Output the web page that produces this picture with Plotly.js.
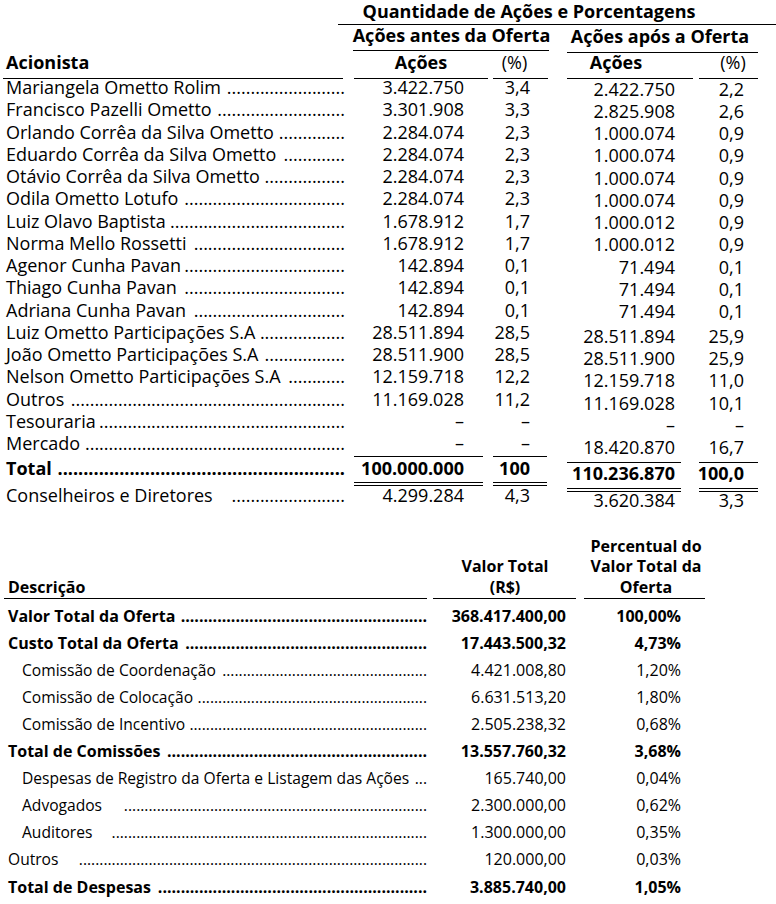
<!DOCTYPE html>
<html><head><meta charset="utf-8">
<script src="https://cdn.plot.ly/plotly-3.0.1.min.js"></script>
<style>html,body{margin:0;padding:0;background:#fff}#chart{width:776px;height:904px}</style>
</head><body><div id="chart"></div>
<script>
// ---------------- DATA: shareholders table ----------------
const titleTop = 'Quantidade de Ações e Porcentagens';
const groupAntes = 'Ações antes da Oferta';
const groupApos = 'Ações após a Oferta';
const colHeadersTop = ['Acionista', 'Ações', '(%)', 'Ações', '(%)'];

const acionistas = [
  'Mariangela Ometto Rolim', 'Francisco Pazelli Ometto', 'Orlando Corrêa da Silva Ometto',
  'Eduardo Corrêa da Silva Ometto', 'Otávio Corrêa da Silva Ometto', 'Odila Ometto Lotufo',
  'Luiz Olavo Baptista', 'Norma Mello Rossetti', 'Agenor Cunha Pavan', 'Thiago Cunha Pavan',
  'Adriana Cunha Pavan', 'Luiz Ometto Participações S.A', 'João Ometto Participações S.A',
  'Nelson Ometto Participações S.A', 'Outros', 'Tesouraria', 'Mercado'
];
const acoesAntes = [3422750, 3301908, 2284074, 2284074, 2284074, 2284074, 1678912, 1678912,
  142894, 142894, 142894, 28511894, 28511900, 12159718, 11169028, null, null];
const pctAntes = [3.4, 3.3, 2.3, 2.3, 2.3, 2.3, 1.7, 1.7, 0.1, 0.1, 0.1, 28.5, 28.5, 12.2, 11.2, null, null];
const acoesApos = [2422750, 2825908, 1000074, 1000074, 1000074, 1000074, 1000012, 1000012,
  71494, 71494, 71494, 28511894, 28511900, 12159718, 11169028, null, 18420870];
const pctApos = [2.2, 2.6, 0.9, 0.9, 0.9, 0.9, 0.9, 0.9, 0.1, 0.1, 0.1, 25.9, 25.9, 11.0, 10.1, null, 16.7];

const totalLabel = 'Total';
const totalAcoesAntes = 100000000, totalPctAntes = 100;
const totalAcoesApos = 110236870, totalPctApos = 100.0;

const conselheirosLabel = 'Conselheiros e Diretores';
const conselheirosAcoesAntes = 4299284, conselheirosPctAntes = 4.3;
const conselheirosAcoesApos = 3620384, conselheirosPctApos = 3.3;

// ---------------- DATA: offer costs table ----------------
const colHeadersBottom = ['Descrição', ['Valor Total', '(R$)'], ['Percentual do', 'Valor Total da', 'Oferta']];
const descricoes = [
  'Valor Total da Oferta', 'Custo Total da Oferta', 'Comissão de Coordenação', 'Comissão de Colocação',
  'Comissão de Incentivo', 'Total de Comissões', 'Despesas de Registro da Oferta e Listagem das Ações',
  'Advogados', 'Auditores', 'Outros', 'Total de Despesas'
];
const valores = [368417400.00, 17443500.32, 4421008.80, 6631513.20, 2505238.32, 13557760.32,
  165740.00, 2300000.00, 1300000.00, 120000.00, 3885740.00];
const percentuais = [100.00, 4.73, 1.20, 1.80, 0.68, 3.68, 0.04, 0.62, 0.35, 0.03, 1.05];

// ---------------- STYLE / LAYOUT CONSTANTS ----------------
const FONT = 'Open Sans';
const FS_TOP = 18, FS_BOT_LABEL = 15.6, FS_BOT_BOLD = 16, FS_BOT_NUM = 16;
const boldRowsBottom = new Set([0, 1, 5, 10]);
const indentRowsBottom = new Set([2, 3, 4, 6, 7, 8]);
const extraLeaderGapBottom = { 7: 18, 8: 15, 9: 14 };

// ---------------- helpers ----------------
const ctx = document.createElement('canvas').getContext('2d');
function measure(str, size, bold) {
  ctx.font = (bold ? 'bold ' : '') + size + 'px "' + FONT + '"';
  return ctx.measureText(str).width;
}
function leader(label, xStart, xEnd, size, bold) {
  const avail = xEnd - xStart - measure(label, size, bold) - 3;
  const n = Math.max(0, Math.floor(avail / measure('.', size, bold)));
  return '.'.repeat(n);
}
function groupThousands(s) { return s.replace(/\B(?=(\d{3})+(?!\d))/g, '.'); }
function fmtInt(n) { return n == null ? '–' : groupThousands(String(Math.round(n))); }
function fmtDec(v, d) {
  if (v == null) return '–';
  const parts = v.toFixed(d).split('.');
  return groupThousands(parts[0]) + (parts[1] ? ',' + parts[1] : '');
}
const B = s => '<b>' + s + '</b>';

const pts = { x: [], y: [], text: [], pos: [], size: [] };
function put(x, y, text, pos, size) {
  pts.x.push(x); pts.y.push(y); pts.text.push(text); pts.pos.push(pos); pts.size.push(size);
}
const shapes = [];
function hline(x0, x1, y) {
  shapes.push({ type: 'line', xref: 'x', yref: 'y', x0: x0, x1: x1, y0: y + 0.5, y1: y + 0.5,
    line: { color: '#000', width: 1 } });
}

// ---------------- top table ----------------
const xName = 6, xLeadEnd = 345;
const xAcoesAntes = 464, xPctAntes = 530, xAcoesApos = 675, xPctApos = 744;
const rowY = i => 89.5 + 22.25 * i;
const aposShift = i => (i < 11 ? 1.5 : 4);

put(529, 13, B(titleTop), 'middle center', FS_TOP);
put(451.5, 37.2, B(groupAntes), 'middle center', FS_TOP);
put(660, 38, B(groupApos), 'middle center', FS_TOP);
put(xName, 64, B(colHeadersTop[0]), 'middle right', FS_TOP);
put(421, 64, B(colHeadersTop[1]), 'middle center', FS_TOP);
put(514.5, 64, colHeadersTop[2], 'middle center', FS_TOP);
put(616, 64.5, B(colHeadersTop[3]), 'middle center', FS_TOP);
put(733, 64.5, colHeadersTop[4], 'middle center', FS_TOP);

acionistas.forEach((name, i) => {
  const y = rowY(i);
  put(xName, y, name, 'middle right', FS_TOP);
  put(xLeadEnd, y, leader(name, xName, xLeadEnd, FS_TOP, false), 'middle left', FS_TOP);
  put(xAcoesAntes, y, fmtInt(acoesAntes[i]), 'middle left', FS_TOP);
  put(xPctAntes, y, fmtDec(pctAntes[i], 1), 'middle left', FS_TOP);
  put(xAcoesApos, y + aposShift(i), fmtInt(acoesApos[i]), 'middle left', FS_TOP);
  put(xPctApos, y + aposShift(i), fmtDec(pctApos[i], 1), 'middle left', FS_TOP);
});

const yTotal = 470.5, yCons = 497.5;
put(xName, yTotal, B(totalLabel), 'middle right', FS_TOP);
put(xLeadEnd, yTotal, B(leader(totalLabel, xName, xLeadEnd, FS_TOP, true)), 'middle left', FS_TOP);
put(xAcoesAntes, yTotal, B(fmtInt(totalAcoesAntes)), 'middle left', FS_TOP);
put(xPctAntes, yTotal, B(fmtDec(totalPctAntes, 0)), 'middle left', FS_TOP);
put(xAcoesApos, yTotal + 5, B(fmtInt(totalAcoesApos)), 'middle left', FS_TOP);
put(xPctApos, yTotal + 5, B(fmtDec(totalPctApos, 1)), 'middle left', FS_TOP);

put(xName, yCons, conselheirosLabel, 'middle right', FS_TOP);
put(xLeadEnd, yCons, leader(conselheirosLabel, xName + 12, xLeadEnd, FS_TOP, false), 'middle left', FS_TOP);
put(xAcoesAntes, yCons, fmtInt(conselheirosAcoesAntes), 'middle left', FS_TOP);
put(xPctAntes, yCons, fmtDec(conselheirosPctAntes, 1), 'middle left', FS_TOP);
put(xAcoesApos, yCons + 5, fmtInt(conselheirosAcoesApos), 'middle left', FS_TOP);
put(xPctApos, yCons + 5, fmtDec(conselheirosPctApos, 1), 'middle left', FS_TOP);

hline(338, 776, 24);
hline(353, 549, 50);
hline(567, 758, 52);
hline(3, 343, 78); hline(354, 488, 78); hline(493, 548, 78); hline(567, 693, 78); hline(699, 758, 78);
hline(354, 483, 456); hline(493, 547, 456); hline(567, 681, 462); hline(699, 758, 462);
hline(354, 483, 482); hline(354, 483, 485); hline(493, 547, 482); hline(493, 547, 485);
hline(567, 681, 488); hline(567, 681, 491); hline(699, 758, 488); hline(699, 758, 491);

// ---------------- bottom table ----------------
const xDesc = 8, xIndent = 22, xLeadEnd2 = 427, xValor = 566, xPct = 681;
const rowY2 = i => 617.5 + 27.1 * i;

put(xDesc, 588.7, B(colHeadersBottom[0]), 'middle right', FS_BOT_BOLD);
colHeadersBottom[1].forEach((t, k) => put(505, 568.3 + 20.4 * k, B(t), 'middle center', FS_BOT_BOLD));
colHeadersBottom[2].forEach((t, k) => put(646, 548 + 20.4 * k, B(t), 'middle center', FS_BOT_BOLD));

descricoes.forEach((d, i) => {
  const y = rowY2(i);
  const bold = boldRowsBottom.has(i);
  const x0 = indentRowsBottom.has(i) ? xIndent : xDesc;
  const gap = extraLeaderGapBottom[i] || 0;
  const fs = bold ? FS_BOT_BOLD : FS_BOT_LABEL;
  const w = s => bold ? B(s) : s;
  put(x0, y, w(d), 'middle right', fs);
  put(xLeadEnd2, y, w(leader(d, x0 + gap, xLeadEnd2, fs, bold)), 'middle left', fs);
  put(xValor, y, w(fmtDec(valores[i], 2)), 'middle left', FS_BOT_NUM);
  put(xPct, y, w(fmtDec(percentuais[i], 2) + '%'), 'middle left', FS_BOT_NUM);
});

hline(4, 427, 598); hline(433, 576, 598); hline(584, 705, 598);

// ---------------- plot ----------------
const trace = {
  type: 'scatter', mode: 'text',
  x: pts.x, y: pts.y, text: pts.text, textposition: pts.pos,
  textfont: { family: FONT, size: pts.size, color: '#000' },
  hoverinfo: 'skip', showlegend: false, cliponaxis: false
};
const layout = {
  width: 776, height: 904,
  margin: { l: 0, r: 0, t: 0, b: 0, pad: 0 },
  paper_bgcolor: '#fff', plot_bgcolor: '#fff',
  font: { family: FONT, color: '#000' },
  xaxis: { range: [0, 776], visible: false, fixedrange: true },
  yaxis: { range: [904, 0], visible: false, fixedrange: true },
  shapes: shapes, showlegend: false
};
Plotly.newPlot('chart', [trace], layout, { displayModeBar: false, staticPlot: true });
</script>
</body></html>
